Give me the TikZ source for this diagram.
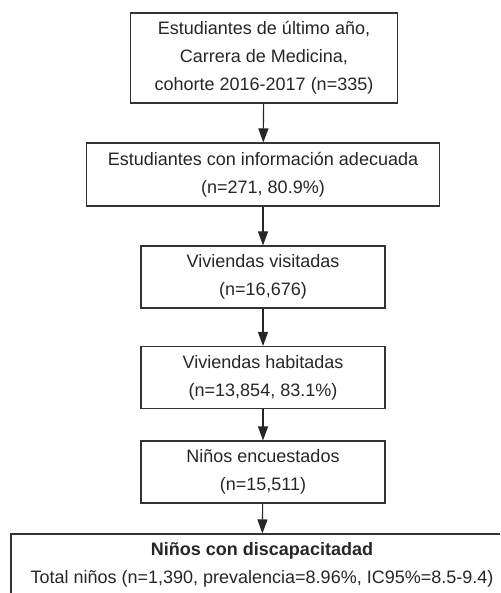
\documentclass[tikz,border=0pt]{standalone}
\usepackage{fontspec}
\setmainfont{Liberation Sans}
\usetikzlibrary{arrows.meta}

\begin{document}
\begin{tikzpicture}[
		x={(1pt,0pt)},
		y={(0pt,-1pt)},
		box/.style={draw=black!80, line width=1.1pt, align=center, text=black!85, inner sep=0pt, font=\fontsize{18}{28}\selectfont},
		arr/.style={-{Triangle[length=14pt,width=10pt]}, line width=1.1pt, draw=black!85},
	]
		\useasboundingbox (0,0) rectangle (500,593);
		\clip (0,0) rectangle (500,593);
		
		\node[box, minimum width=267, minimum height=90] (cohorte) at (264,58) {Estudiantes de último año,\\Carrera de Medicina,\\cohorte 2016-2017 (n=335)};
		\node[box, minimum width=353, minimum height=63] (info) at (263,174.5) {Estudiantes con información adecuada\\(n=271, 80.9\%)};
		\node[box, minimum width=244, minimum height=62] (visitadas) at (263,277) {Viviendas visitadas\\(n=16,676)};
		\node[box, minimum width=244, minimum height=62] (habitadas) at (263,377.5) {Viviendas habitadas\\(n=13,854, 83.1\%)};
		\node[box, minimum width=244, minimum height=62] (ninos) at (263,472) {Niños encuestados\\(n=15,511)};
		\node[box, minimum width=502, minimum height=62] (discap) at (262,565) {\textbf{Niños con discapacitadad}\\Total niños (n=1,390, prevalencia=8.96\%, IC95\%=8.5-9.4)};
		
		\foreach \a/\b in {cohorte/info, info/visitadas, visitadas/habitadas, habitadas/ninos, ninos/discap}{
			\draw[arr] (\a) -- (\b);
		}
	\end{tikzpicture}
\end{document}
